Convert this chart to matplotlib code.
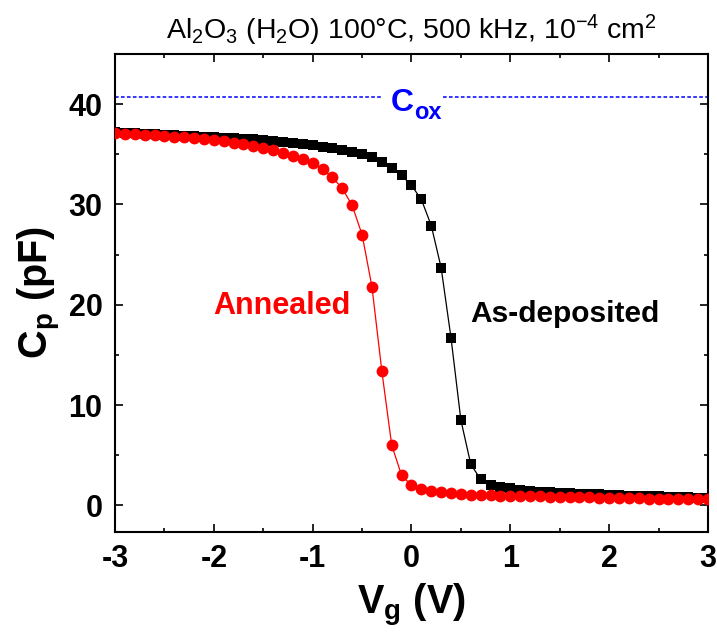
import numpy as np
import matplotlib
matplotlib.use("Agg")
import matplotlib.pyplot as plt
from matplotlib.ticker import MultipleLocator

plt.rcParams['font.family'] = ['Liberation Sans', 'DejaVu Sans']
plt.rcParams['mathtext.fontset'] = 'custom'
plt.rcParams['mathtext.rm'] = 'Liberation Sans'
plt.rcParams['mathtext.bf'] = 'Liberation Sans:bold'
plt.rcParams['mathtext.it'] = 'Liberation Sans:italic'
plt.rcParams['axes.unicode_minus'] = False

vg = [round(-3.0 + 0.1 * i, 1) for i in range(61)]

cp_annealed = [
    37.10, 37.05, 37.00, 36.95, 36.88, 36.82, 36.75, 36.68, 36.60, 36.52,
    36.40, 36.28, 36.15, 36.00, 35.82, 35.60, 35.40, 35.17, 34.87, 34.53,
    34.10, 33.50, 32.70, 31.60, 29.90, 27.00, 21.80, 13.40, 6.00, 3.00,
    2.00, 1.67, 1.47, 1.33, 1.22, 1.12, 1.07, 1.04, 1.01, 0.99,
    0.97, 0.95, 0.93, 0.91, 0.89, 0.87, 0.85, 0.83, 0.81, 0.79,
    0.77, 0.75, 0.73, 0.71, 0.69, 0.68, 0.66, 0.65, 0.63, 0.62, 0.60,
]

cp_asdep = [
    37.20, 37.15, 37.10, 37.05, 37.00, 36.95, 36.90, 36.85, 36.80, 36.76,
    36.72, 36.67, 36.62, 36.57, 36.51, 36.45, 36.37, 36.27, 36.15, 36.02,
    35.90, 35.77, 35.60, 35.40, 35.20, 35.00, 34.70, 34.20, 33.60, 32.90,
    31.90, 30.50, 27.90, 23.70, 16.70, 8.50, 4.10, 2.60, 2.05, 1.85,
    1.70, 1.55, 1.45, 1.38, 1.32, 1.27, 1.22, 1.18, 1.14, 1.10,
    1.06, 1.02, 0.99, 0.96, 0.93, 0.90, 0.87, 0.84, 0.81, 0.78, 0.75,
]

c_ox = 40.7

fig = plt.figure(figsize=(7.17, 6.37), dpi=100)
ax = fig.add_axes([0.1604, 0.1656, 0.8270, 0.7496])

ax.plot(vg, cp_asdep, color='black', lw=0.9, marker='s', ms=7.3,
        mec='black', mew=0, zorder=3, clip_on=True)
ax.plot(vg, cp_annealed, color='red', lw=0.9, marker='o', ms=8.5,
        mec='red', mew=0, zorder=4, clip_on=True)

dash = (0, (2.4, 1.5))
ax.hlines(c_ox, -3.0, -0.29, colors='blue', linestyles=[dash], lw=1.1, zorder=2)
ax.hlines(c_ox, 0.316, 3.0, colors='blue', linestyles=[dash], lw=1.1, zorder=2)
ax.text(-0.21, 39.34, 'C', color='blue', fontsize=23, fontweight='bold',
        ha='left', va='baseline')
ax.text(0.03, 38.5, 'ox', color='blue', fontsize=17, fontweight='bold',
        ha='left', va='baseline')

ax.text(-0.62, 19.9, 'Annealed', color='red', fontsize=22, fontweight='bold',
        ha='right', va='center')
ax.text(0.59, 19.1, 'As-deposited', color='black', fontsize=21.5, fontweight='bold',
        ha='left', va='center')

ax.set_xlim(-3, 3)
ax.set_ylim(-2.6, 45)
ax.xaxis.set_major_locator(MultipleLocator(1))
ax.xaxis.set_minor_locator(MultipleLocator(0.5))
ax.yaxis.set_major_locator(MultipleLocator(10))
ax.yaxis.set_minor_locator(MultipleLocator(5))
ax.tick_params(which='both', direction='in', top=True, right=True, width=1.2)
ax.tick_params(which='major', length=6, labelsize=22, pad=9)
ax.tick_params(which='minor', length=3)
for lab in ax.get_xticklabels() + ax.get_yticklabels():
    lab.set_fontweight('bold')
for sp in ax.spines.values():
    sp.set_linewidth(1.5)

ax.set_xlabel(r'$\mathbf{V}_{\mathbf{g}}$ (V)', fontsize=28.5, fontweight='bold', labelpad=6)
ax.set_ylabel(r'$\mathbf{C}_{\mathbf{p}}$ (pF)', fontsize=28.5, fontweight='bold', labelpad=4)
ax.set_title(r'Al$_2$O$_3$ (H$_2$O) 100°C, 500 kHz, 10$^{-4}$ cm$^2$', fontsize=20.5, pad=10.5)

fig.savefig('out.png', dpi=100)
